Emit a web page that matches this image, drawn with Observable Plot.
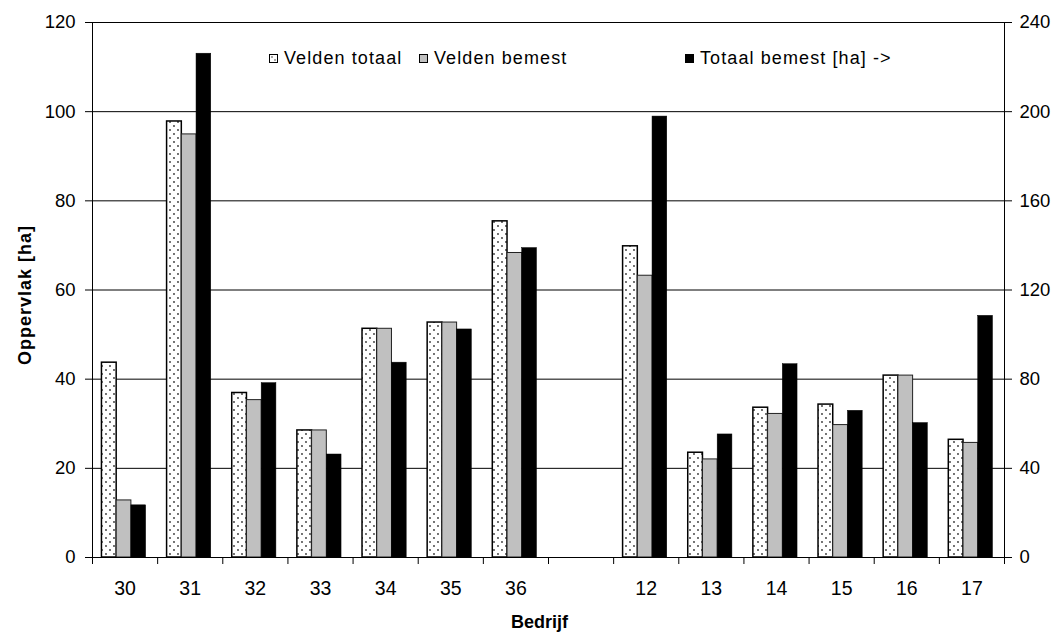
<!DOCTYPE html>
<html>
<head>
<meta charset="utf-8">
<script src="https://cdn.jsdelivr.net/npm/d3@7"></script>
<script src="https://cdn.jsdelivr.net/npm/@observablehq/plot@0.6"></script>
<style>
  html, body { margin: 0; padding: 0; background: #fff; }
  #wrap { position: relative; width: 1058px; height: 635px; font-family: "Liberation Sans", Arial, sans-serif; }
  .leg { position: absolute; top: 48px; font-size: 18px; letter-spacing: 1.1px; display: flex; align-items: center; white-space: nowrap; color: #000; }
  .leg svg { margin-right: 6px; }
  .ytitle { letter-spacing: 1px; }
</style>
</head>
<body>
<div id="wrap"></div>
<script>
// ---- data ----
const categories = ["30","31","32","33","34","35","36","","12","13","14","15","16","17"];
const veldenTotaal = [43.7, 97.8, 36.9, 28.5, 51.3, 52.7, 75.4, null, 69.8, 23.5, 33.6, 34.3, 40.8, 26.4];
const veldenBemest = [12.8, 94.9, 35.3, 28.5, 51.3, 52.7, 68.3, null, 63.2, 22.0, 32.2, 29.7, 40.8, 25.7];
const totaalBemest = [23.4, 226.0, 78.2, 46.2, 87.4, 102.3, 138.8, null, 197.8, 55.2, 86.7, 65.8, 60.3, 108.4]; // right axis [ha]
const leftTicks = [0, 20, 40, 60, 80, 100, 120];
const seriesNames = ["Velden totaal", "Velden bemest", "Totaal bemest [ha] ->"];

const rows = categories
  .map((c, i) => ({i, c, vt: veldenTotaal[i], vb: veldenBemest[i], tb: totaalBemest[i]}))
  .filter(d => d.c !== "");

const off = 0.145, bw = 0.226;

const chart = Plot.plot({
  width: 1058,
  height: 635,
  marginLeft: 92,
  marginRight: 54,
  marginTop: 22,
  marginBottom: 78,
  style: {fontFamily: "'Liberation Sans', Arial, sans-serif", fontSize: "18px", background: "white", color: "black"},
  x: {type: "linear", domain: [0, categories.length], axis: null},
  y: {domain: [0, 120], axis: null},
  marks: [
    Plot.gridY({ticks: leftTicks.slice(1), stroke: "#000", strokeOpacity: 1, strokeWidth: 1}),
    Plot.rectY(rows, {x1: d => d.i + off, x2: d => d.i + off + bw, y: "vt", fill: "url(#dots)", stroke: "#000", strokeWidth: 1.5}),
    Plot.rectY(rows, {x1: d => d.i + off + bw, x2: d => d.i + off + 2 * bw, y: "vb", fill: "#c0c0c0", stroke: "#222", strokeWidth: 1}),
    Plot.rectY(rows, {x1: d => d.i + off + 2 * bw, x2: d => d.i + off + 3 * bw, y: d => d.tb / 2, fill: "#000", stroke: "#000", strokeWidth: 0.5}),
    Plot.ruleX([0, categories.length], {stroke: "#000", strokeWidth: 1}),
    Plot.ruleY([0], {stroke: "#000", strokeWidth: 1}),
    Plot.axisY({anchor: "left", ticks: leftTicks, tickSize: 7, tickPadding: 10, fontSize: 18.5, label: null}),
    Plot.axisY({anchor: "right", ticks: leftTicks, tickSize: 7, tickPadding: 8, fontSize: 18.5, tickFormat: d => d * 2, label: null}),
    Plot.axisX({ticks: d3.range(0, categories.length + 1), tickSize: 7, tickFormat: () => "", label: null}),
    Plot.axisX({ticks: rows.map(d => d.i + 0.5), tickSize: 0, tickPadding: 24, fontSize: 19.5, tickFormat: d => categories[Math.floor(d)], label: null}),
    Plot.text(["Oppervlak [ha]"], {frameAnchor: "left", rotate: -90, dx: -67, dy: 5, textAnchor: "middle", lineAnchor: "middle", fontWeight: "bold", fontSize: 18, className: "ytitle"}),
    Plot.text(["Bedrijf"], {frameAnchor: "bottom", dy: 65, dx: -9, textAnchor: "middle", lineAnchor: "middle", fontWeight: "bold", fontSize: 18})
  ]
});

d3.select(chart).insert("defs", ":first-child").html(
  `<pattern id="dots" patternUnits="userSpaceOnUse" width="8" height="8">
     <rect width="8" height="8" fill="#fff"/>
     <circle cx="2" cy="2" r="0.9" fill="#333"/>
     <circle cx="6" cy="6" r="0.9" fill="#333"/>
   </pattern>`
);

const wrap = document.getElementById("wrap");
wrap.appendChild(chart);

// legend
const swatches = [
  `<svg width="9" height="9"><rect x="0.5" y="0.5" width="8" height="8" fill="#fff" stroke="#000"/><circle cx="3" cy="3" r="0.8" fill="#333"/><circle cx="6" cy="6" r="0.8" fill="#333"/></svg>`,
  `<svg width="9" height="9"><rect x="0.5" y="0.5" width="8" height="8" fill="#c0c0c0" stroke="#000"/></svg>`,
  `<svg width="9" height="9"><rect x="0" y="0" width="9" height="9" fill="#000"/></svg>`
];
const legendLeft = [269, 419, 685];
seriesNames.forEach((name, k) => {
  const el = document.createElement("div");
  el.className = "leg";
  el.style.left = legendLeft[k] + "px";
  el.innerHTML = swatches[k] + `<span>${name}</span>`;
  wrap.appendChild(el);
});
</script>
</body>
</html>
